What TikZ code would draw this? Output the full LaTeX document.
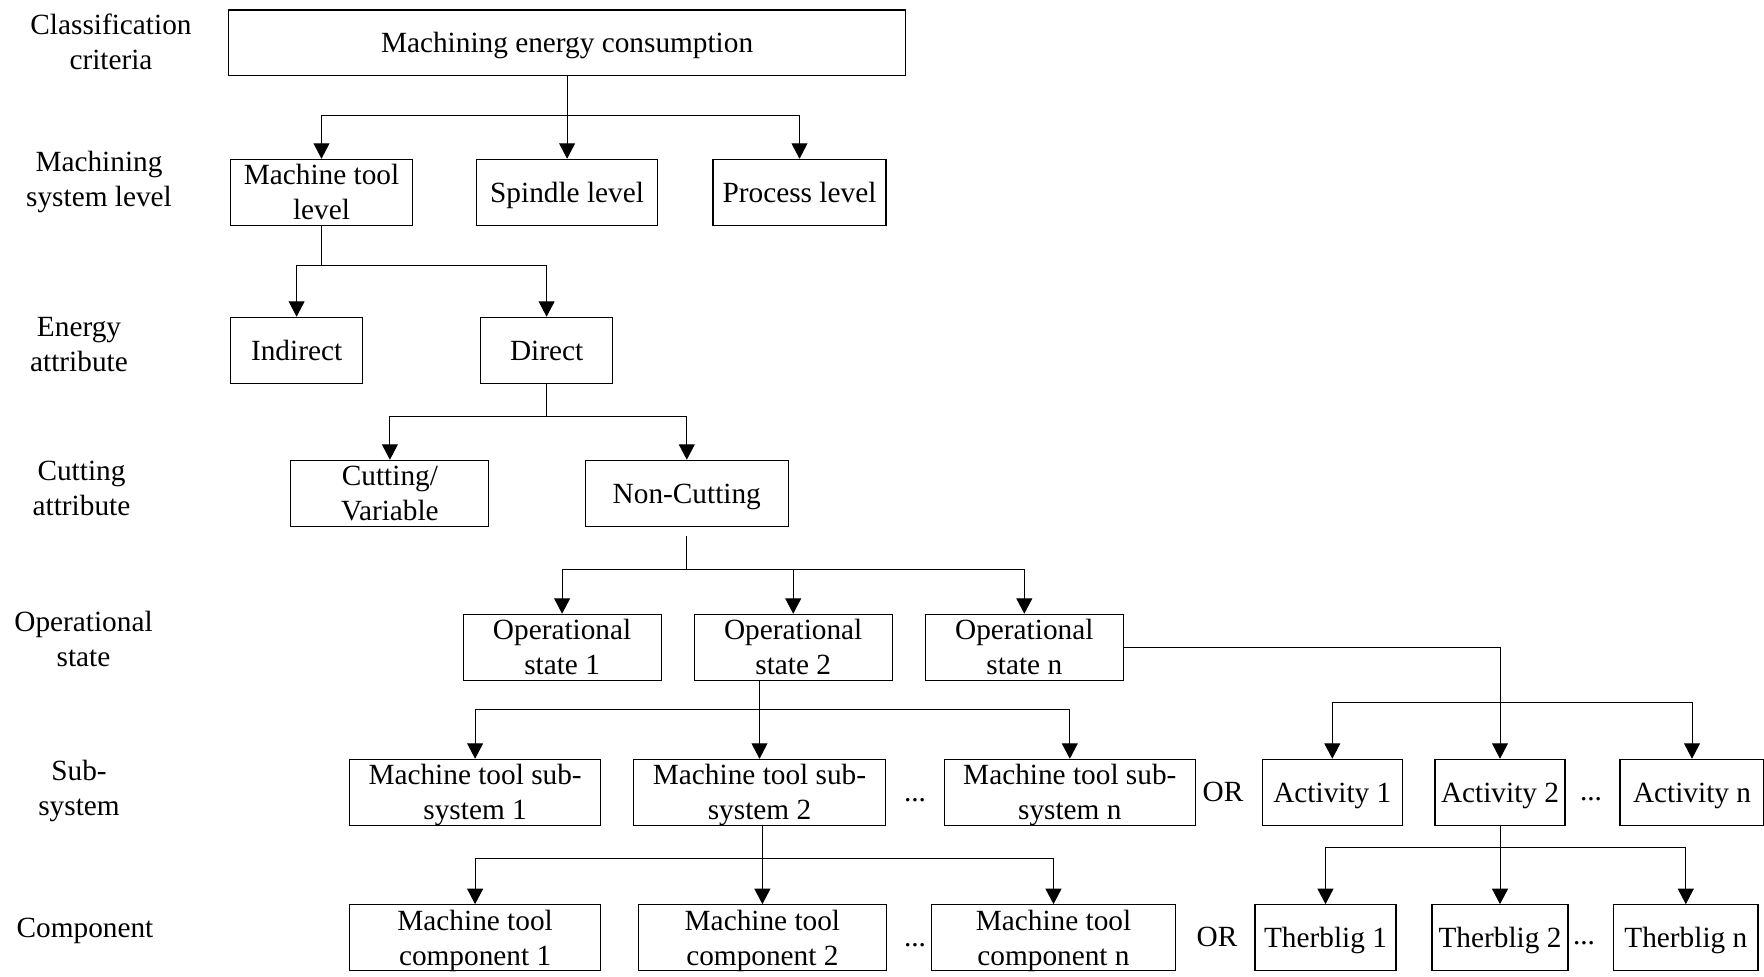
\documentclass[tikz,border=0pt]{standalone}
\usepackage{fontspec}
\setmainfont{Liberation Serif}
\usetikzlibrary{arrows.meta}
\begin{document}
\begin{tikzpicture}[x=1pt,y=-1pt,
  font=\fontsize{29.3}{35}\selectfont,
  box/.style={draw, line width=1.1pt, minimum height=66pt, inner sep=0pt, align=center},
  single/.style={text height=19.5pt, text depth=0pt},
  lbl/.style={align=center, inner sep=0pt},
  conn/.style={line width=1pt},
  arr/.style={conn, -{Triangle[length=15.5pt,width=16pt]}},
]
\fill[white] (0,0) rectangle (1764,977);
\useasboundingbox (0,0) rectangle (1764,977);

% left labels
\node[lbl] (L1) at (111,42) {Classification\\criteria};
\node[lbl] (L2) at (99,182) {Machining\\system level};
\node[lbl] (L3) at (79,344.3) {Energy\\attribute};
\node[lbl] (L4) at (81.5,488.1) {Cutting\\attribute};
\node[lbl] (L5) at (83.5,638.6) {Operational\\state};
\node[lbl] (L6) at (79,790.5) {Sub-\\system};
\node[lbl] (L7) at (85,931) {Component};

% boxes
\node[box, single, minimum width=676.6pt, minimum height=65.7pt] (top) at (567.1,42.85) {Machining energy consumption};
\node[box, minimum width=182pt] (mtl) at (321.5,192.3) {Machine tool\\level};
\node[box, single, minimum width=181.4pt] (spin) at (567.1,192.3) {Spindle level};
\node[box, single, minimum width=173pt] (proc) at (799.5,192.3) {Process level};
\node[box, single, minimum width=132pt] (ind) at (296.6,350.3) {Indirect};
\node[box, single, minimum width=132pt] (dir) at (546.6,350.3) {Direct};
\node[box, minimum width=198pt] (cut) at (389.9,493.3) {Cutting/\\Variable};
\node[box, single, minimum width=203pt] (ncut) at (686.8,493.3) {Non-Cutting};
\node[box, minimum width=198pt] (os1) at (562.1,647.3) {Operational\\state 1};
\node[box, minimum width=198pt] (os2) at (793.2,647.3) {Operational\\state 2};
\node[box, minimum width=198pt] (osn) at (1024.3,647.3) {Operational\\state n};
\node[box, minimum width=251.4pt] (ss1) at (475.1,792.3) {Machine tool sub-\\s\smash{y}stem 1};
\node[box, minimum width=252pt] (ss2) at (759.5,792.3) {Machine tool sub-\\s\smash{y}stem 2};
\node[box, minimum width=251.5pt] (ssn) at (1069.8,792.3) {Machine tool sub-\\s\smash{y}stem n};
\node[box, single, minimum width=140.5pt] (a1) at (1332.3,792.3) {Activity 1};
\node[box, single, minimum width=130pt] (a2) at (1500,792.3) {Activity 2};
\node[box, single, minimum width=144pt] (an) at (1692,792.3) {Activity n};
\node[box, minimum width=251.4pt] (c1) at (475.1,937.7) {Machine tool\\com\smash{p}onent 1};
\node[box, minimum width=247.4pt] (c2) at (762.4,937.7) {Machine tool\\com\smash{p}onent 2};
\node[box, minimum width=244pt] (cn) at (1053.5,937.7) {Machine tool\\com\smash{p}onent n};
\node[box, single, minimum width=141pt] (t1) at (1325.5,937.7) {Therblig 1};
\node[box, single, minimum width=136pt] (t2) at (1500,937.7) {Therblig 2};
\node[box, single, minimum width=144.4pt] (tn) at (1685.8,937.7) {Therblig n};

% dots and OR
\node[lbl, anchor=base] (d1) at (915,801.7) {...};
\node[lbl, anchor=base] (or1) at (1223,801.5) {OR};
\node[lbl, anchor=base] (d2) at (1591,800.5) {...};
\node[lbl, anchor=base] (d3) at (915,946.7) {...};
\node[lbl, anchor=base] (or2) at (1217,946.5) {OR};
\node[lbl, anchor=base] (d4) at (1584,944) {...};

% junctions
\coordinate (j1) at (567.1,115.7);
\coordinate (j2) at (321.5,265);
\coordinate (j3) at (546.6,416);
\coordinate (j4) at (686.8,569.3);
\coordinate (j5) at (759.5,709);
\coordinate (j6) at (1500,702.3);
\coordinate (j7) at (762.4,858.7);
\coordinate (j8) at (1500,847.3);

% connectors
\draw[conn] (top.south) -- (j1);
\draw[arr] (j1) -| (mtl.north);
\draw[arr] (j1) -- (spin.north);
\draw[arr] (j1) -| (proc.north);

\draw[conn] (mtl.south) -- (j2);
\draw[arr] (j2) -| (ind.north);
\draw[arr] (j2) -| (dir.north);

\draw[conn] (dir.south) -- (j3);
\draw[arr] (j3) -| (cut.north);
\draw[arr] (j3) -| (ncut.north);

\draw[conn] ([yshift=-9pt]ncut.south) -- (j4);
\draw[arr] (j4) -| (os1.north);
\draw[arr] (j4) -| (os2.north);
\draw[arr] (j4) -| (osn.north);

\draw[conn] (os2.south -| ss2.north) -- (j5);
\draw[arr] (j5) -| (ss1.north);
\draw[arr] (j5) -- (ss2.north);
\draw[arr] (j5) -| (ssn.north);

\draw[arr] (osn.east) -| (a2.north);
\draw[arr] (j6) -| (a1.north);
\draw[arr] (j6) -| (an.north);

\draw[conn] (ss2.south -| c2.north) -- (j7);
\draw[arr] (j7) -| (c1.north);
\draw[arr] (j7) -- (c2.north);
\draw[arr] (j7) -| (cn.north);

\draw[conn] (a2.south) -- (j8);
\draw[arr] (j8) -| (t1.north);
\draw[arr] (j8) -- (t2.north);
\draw[arr] (j8) -| (tn.north);
\end{tikzpicture}
\end{document}
